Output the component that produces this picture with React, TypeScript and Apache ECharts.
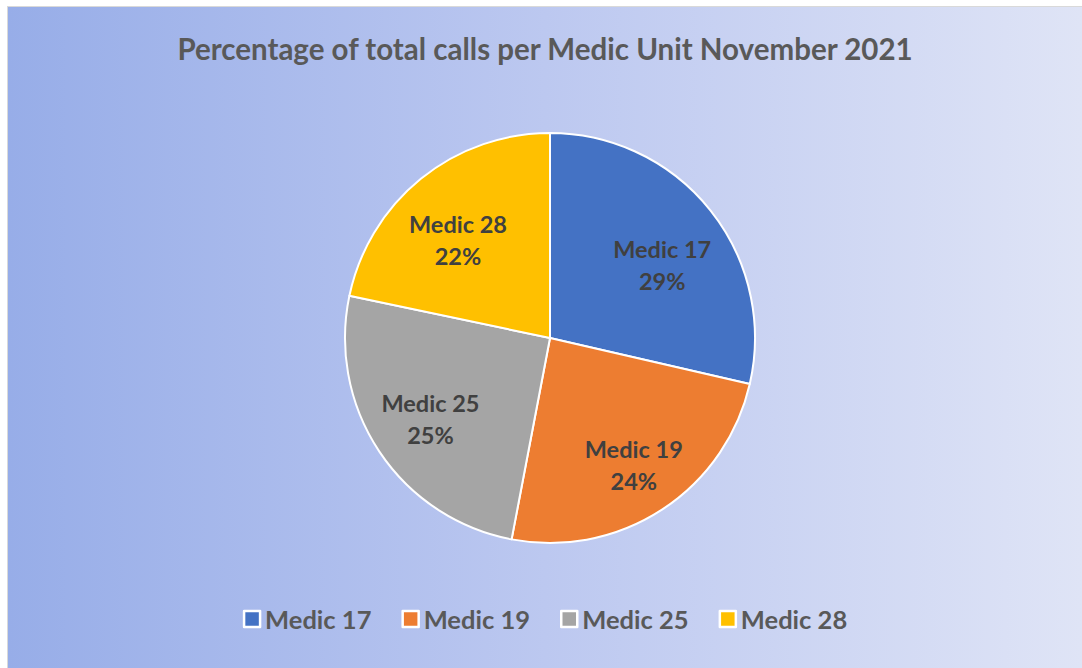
import React, { useEffect, useRef } from "react";
import * as echarts from "echarts";

const units = ["Medic 17", "Medic 19", "Medic 25", "Medic 28"];
const shares = [28.6, 24.4, 25.3, 21.7];
const colors = ["#4472C4", "#ED7D31", "#A5A5A5", "#FFC000"];
const labelNudge = [[-2, 18], [4, 5], [2, 0], [0, 15]];
const titleText = "Percentage of total calls per Medic Unit November 2021";

export default function App() {
  const ref = useRef<HTMLDivElement>(null);
  useEffect(() => {
    if (!ref.current) return;
    const chart = echarts.init(ref.current, null, { renderer: "svg" });
    const total = shares.reduce((a, b) => a + b, 0);
    const data = units.map((n, i) => ({ name: n, value: shares[i], itemStyle: { color: colors[i] } }));
    const font = "Lato, 'Open Sans', sans-serif";
    chart.setOption({
      animation: false,
      backgroundColor: {
        type: "linear", x: 0, y: 0, x2: 1, y2: 0,
        colorStops: [
          { offset: 0, color: "#97ADE8" },
          { offset: 0.5, color: "#BCC8F0" },
          { offset: 1, color: "#DFE4F6" },
        ],
      },
      title: {
        text: titleText,
        left: "center",
        top: 21,
        textStyle: { fontFamily: font, fontSize: 29.5, fontWeight: "bold", color: "#595959" },
      },
      legend: {
        bottom: 31,
        left: "center",
        icon: "rect",
        itemWidth: 16,
        itemHeight: 16,
        itemGap: 30,
        itemStyle: { borderColor: "#ffffff", borderWidth: 2.5 },
        textStyle: { fontFamily: font, fontSize: 25.5, fontWeight: "bold", color: "#595959" },
        data: units,
      },
      series: [
        {
          type: "pie",
          center: [542, 331],
          radius: 205,
          startAngle: 90,
          clockwise: true,
          label: { show: false },
          labelLine: { show: false },
          itemStyle: { borderColor: "#ffffff", borderWidth: 2 },
          data,
        },
        {
          type: "pie",
          center: [542, 331],
          radius: 286,
          startAngle: 90,
          clockwise: true,
          silent: true,
          legendHoverLink: false,
          itemStyle: { color: "rgba(0,0,0,0)" },
          label: {
            show: true,
            position: "inside",
            fontFamily: font,
            fontSize: 23.5,
            fontWeight: "bold",
            color: "#404040",
            lineHeight: 32,
            formatter: (p: any) => `${p.name}\n${Math.round((p.value / total) * 100)}%`,
          },
          labelLine: { show: false },
          data: units.map((n, i) => ({ name: n, value: shares[i], label: { offset: labelNudge[i] } })),
          tooltip: { show: false },
        },
      ],
    });
    return () => chart.dispose();
  }, []);
  return (
    <div
      ref={ref}
      style={{
        position: "absolute",
        left: 7,
        top: 6,
        width: 1075,
        height: 662,
        borderTop: "1px solid #d9d9d9",
        borderLeft: "1px solid #d9d9d9",
        boxSizing: "border-box",
      }}
    />
  );
}
